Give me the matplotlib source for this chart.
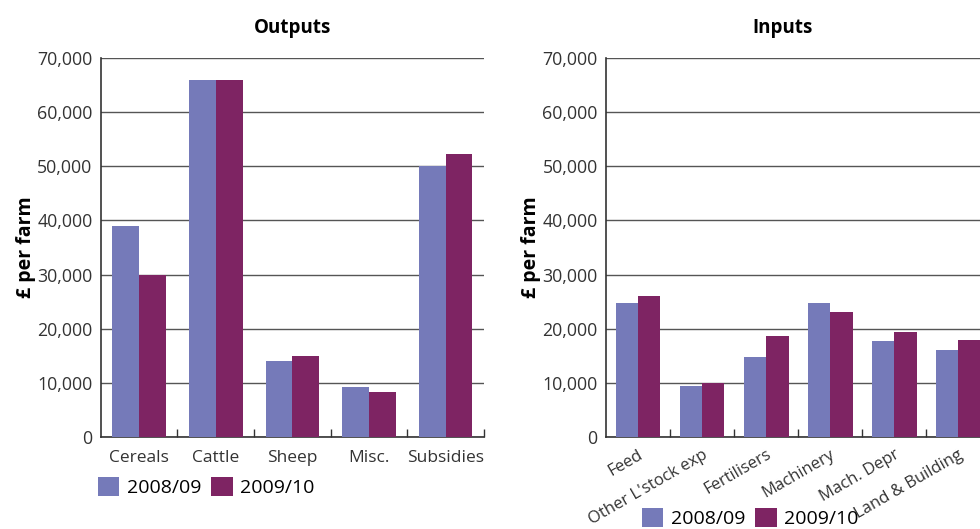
import numpy as np
import matplotlib.pyplot as plt
from matplotlib.patches import Patch
from matplotlib.ticker import FuncFormatter, FixedLocator

plt.rcParams["font.family"] = ["Open Sans", "DejaVu Sans"]

out_categories = ["Cereals", "Cattle", "Sheep", "Misc.", "Subsidies"]
out_2008 = [39000, 66000, 14000, 9200, 50000]
out_2009 = [30000, 66000, 15000, 8300, 52300]

in_categories = ["Feed", "Other L'stock exp", "Fertilisers", "Machinery",
                 "Mach. Depr", "Land & Building"]
in_2008 = [24800, 9400, 14800, 24800, 17700, 16100]
in_2009 = [26000, 10000, 18650, 23000, 19450, 17900]

years = ["2008/09", "2009/10"]
colors = ["#757AB9", "#7E2463"]

fig = plt.figure(figsize=(9.8, 5.29), dpi=100)
ax_out = fig.add_axes([0.1028, 0.1739, 0.391, 0.7165])
ax_in = fig.add_axes([0.6184, 0.1739, 0.392, 0.7165])


def draw_panel(ax, cats, a, b, xpad):
    x = np.arange(len(cats))
    w = 0.35
    ax.bar(x - w / 2, a, w, color=colors[0], zorder=3)
    ax.bar(x + w / 2, b, w, color=colors[1], zorder=3)
    ax.set_xlim(-0.5, len(cats) - 0.5)
    ax.set_ylim(0, 70000)
    ax.set_yticks(np.arange(0, 70001, 10000))
    ax.yaxis.set_major_formatter(FuncFormatter(lambda v, p: f"{int(v):,}"))
    ax.tick_params(axis="y", length=0, pad=6, labelsize=12.8, labelcolor="#333333")
    ax.yaxis.grid(True, color="#555555", linewidth=1.0, zorder=0)
    ax.set_xticks(x)
    ax.xaxis.set_minor_locator(FixedLocator(np.arange(0.5, len(cats), 1.0)))
    ax.tick_params(axis="x", which="major", length=0, pad=xpad,
                   labelsize=12.5, labelcolor="#333333")
    ax.tick_params(axis="x", which="minor", direction="in", length=6,
                   width=1.0, color="#333333")
    for side in ["top", "right"]:
        ax.spines[side].set_visible(False)
    for side in ["left", "bottom"]:
        ax.spines[side].set_color("#333333")
        ax.spines[side].set_linewidth(1.2)
    ax.set_ylabel("£ per farm", fontsize=14, fontweight="bold", labelpad=1)
    ax.set_axisbelow(True)


draw_panel(ax_out, out_categories, out_2008, out_2009, xpad=9)
ax_out.set_xticklabels(out_categories)

draw_panel(ax_in, in_categories, in_2008, in_2009, xpad=7)
ax_in.set_xticklabels(in_categories, rotation=30, ha="right",
                      rotation_mode="anchor", fontsize=12)

fig.text(0.299, 0.947, "Outputs", ha="center", va="center",
         fontsize=13.5, fontweight="bold")
fig.text(0.799, 0.947, "Inputs", ha="center", va="center",
         fontsize=13.5, fontweight="bold")

handles = [Patch(facecolor=c, edgecolor="none") for c in colors]
legend_kw = dict(ncol=2, frameon=False, fontsize=14, handlelength=1.1,
                 handleheight=1.1, handletextpad=0.4, columnspacing=0.5,
                 borderpad=0, borderaxespad=0)
fig.legend(handles, years, loc="center left",
           bbox_to_anchor=(0.100, 0.079), **legend_kw)
fig.legend(handles, years, loc="center left",
           bbox_to_anchor=(0.655, 0.021), **legend_kw)

fig.savefig("out.png", dpi=100)
